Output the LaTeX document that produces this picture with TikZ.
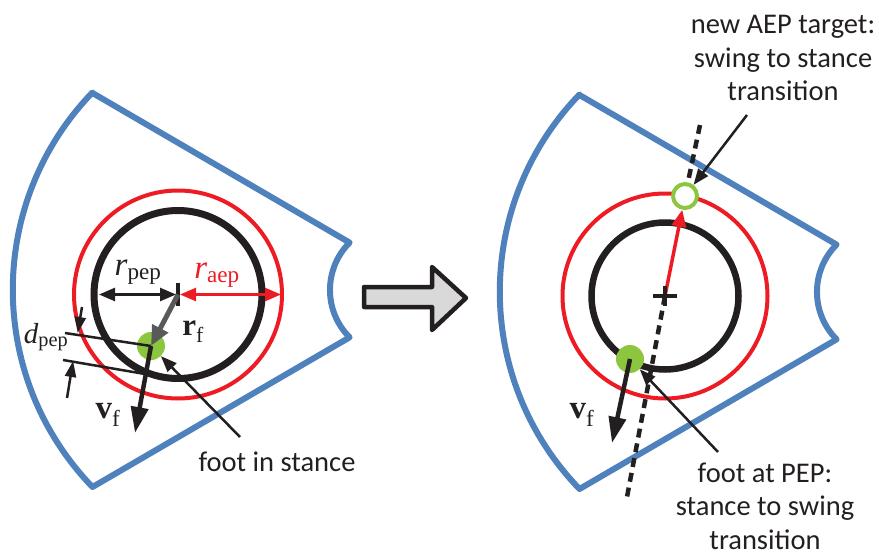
\documentclass[tikz,border=0pt]{standalone}
\usepackage{fontspec}
\setmainfont{Carlito}
\newfontfamily\symfont{Liberation Serif}
\usetikzlibrary{arrows.meta}
\definecolor{zoneblue}{HTML}{4F81BD}
\definecolor{limred}{HTML}{ED1C24}
\definecolor{footgreen}{HTML}{8CC63F}
\definecolor{rfgray}{HTML}{595959}
\definecolor{ink}{HTML}{231F20}
\definecolor{arrowfill}{HTML}{D9D9D9}

\begin{document}
\begin{tikzpicture}[x=1pt, y=-1pt,
  zone/.style={draw=zoneblue, line width=6pt, line join=round},
  pepcircle/.style={draw=ink, line width=7pt},
  aepcircle/.style={draw=limred, line width=4pt},
  foot/.style={circle, fill=footgreen, minimum size=28pt, inner sep=0pt},
  target/.style={circle, draw=footgreen, line width=4pt, fill=white,
    minimum size=24pt, inner sep=0pt},
  vel/.style={draw=ink, line width=4.5pt, -{Triangle[length=26pt, width=17pt]}},
  rvec/.style={draw=rfgray, line width=5pt, -{Triangle[length=20pt, width=17pt]}},
  dim/.style={draw=ink, line width=2.5pt,
    {Triangle[length=16pt, width=13pt]}-{Triangle[length=16pt, width=13pt]}},
  dimside/.style={draw=ink, line width=2.5pt, -{Triangle[length=16pt, width=11pt]}},
  pointer/.style={draw=ink, line width=2.5pt, -{Triangle[length=16pt, width=12pt]}},
  swingline/.style={draw=ink, line width=4.5pt, dash pattern=on 9pt off 6pt},
  centremark/.style={draw=ink, line width=3.5pt},
  bigarrow/.style={draw=ink, fill=arrowfill, line width=4.5pt, line join=round},
  note/.style={font=\fontsize{28.5}{33.5}\selectfont, align=center, text=ink, inner sep=0pt},
  sym/.style={font=\symfont\fontsize{33}{33}\selectfont, text=ink, inner sep=0pt}
]
\useasboundingbox (0,0) rectangle (879,557);

% workspace of the leg, before and after
\foreach \dx/\dy in {0/0, 487/2}
  \draw[zone, shift={(\dx,\dy)}] (92.5,93) -- (349.6,242.6)
    arc[start angle=225, end angle=135, radius=67] -- (92.5,487)
    arc[start angle=136, end angle=224, radius=284] -- cycle;

% left: foot in stance
\coordinate (cL) at (178,294.5);
\coordinate (pepEdge) at (99,294.5);
\coordinate (aepEdge) at (281,294.5);
\coordinate (vL) at (135,433);
\coordinate (dA) at (65,333);
\coordinate (dB) at (63,360);
\coordinate (pepCross) at (145,374);
\coordinate (dimTop) at (82,307);
\coordinate (dimTipA) at (77.7,333);
\coordinate (dimBot) at (67,398);
\coordinate (dimTipB) at (73.1,361);
\coordinate (stanceTail) at (240,437);

\draw[aepcircle] (cL) circle[radius=104];
\draw[pepcircle] (cL) circle[radius=84];
\node[foot] (footL) at (151,346) {};
\draw[dim] (pepEdge) -- ([xshift=-2pt]cL);
\draw[dim, draw=limred, fill=limred] ([xshift=2pt]cL) -- (aepEdge);
\draw[centremark] ([yshift=12pt]cL) -- ([yshift=-11pt]cL);
\draw[rvec] (cL) -- (footL.center);
\draw[draw=ink, line width=2.5pt] (dA) -- (footL.center);
\draw[draw=ink, line width=2.5pt] (dB) -- (pepCross);
\draw[dimside] (dimTop) -- (dimTipA);
\draw[dimside] (dimBot) -- (dimTipB);
\draw[vel] (footL.center) -- (vL);

\node[sym] (rpepL) at (138,272) {\textit{r}\textsubscript{pep}};
\node[sym, text=limred] (raepL) at (217,275) {\textit{r}\textsubscript{aep}};
\node[sym, font=\symfont\fontsize{31}{31}\selectfont] (rfL) at (193,332) {\textbf{r}\textsubscript{f}};
\node[sym] (vfL) at (108,415) {\textbf{v}\textsubscript{f}};
\node[sym, font=\symfont\fontsize{29}{29}\selectfont] (dpepL) at (46,337) {\textit{d}\textsubscript{pep}};
\node[note] (stanceL) at (277,462) {foot in stance};
\draw[pointer] (stanceTail) -- (footL);

% transition arrow
\draw[bigarrow] (364,287) -- (432,287) -- (432,267) -- (466,298)
  -- (432,330) -- (432,307) -- (364,307) -- cycle;

% right: foot at PEP, new AEP target
\coordinate (cR) at (665,296);
\coordinate (dashTop) at (700,125);
\coordinate (dashBot) at (627,497);
\coordinate (vR) at (612,443);
\coordinate (pepTail) at (718,452);
\coordinate (aepTail) at (747,115);

\draw[aepcircle] (cR) circle[radius=102.5];
\draw[pepcircle, line width=6.5pt] (cR) circle[radius=73.5];
\node[target] (aepR) at (685,196) {};
\draw[swingline] (dashTop) -- (aepR);
\draw[swingline] (cR) -- (dashBot);
\draw[draw=limred, line width=3.5pt, -{Triangle[length=17pt, width=14pt]}] (cR) -- (aepR);
\draw[centremark] ([xshift=-12pt]cR) -- ([xshift=12pt]cR)
  ([yshift=10pt]cR) -- ([yshift=-10pt]cR);
\node[foot] (footR) at (630,359) {};
\draw[vel] (footR.center) -- (vR);

\node[sym] (vfR) at (582,415) {\textbf{v}\textsubscript{f}};
\node[note] (aepNote) at (783,58) {new AEP target:\\swing to stance\\transition};
\node[note] (pepNote) at (765,506) {foot at PEP:\\stance to swing\\transition};
\draw[pointer] (aepTail) -- (aepR);
\draw[pointer] (pepTail) -- (footR);
\end{tikzpicture}
\end{document}
